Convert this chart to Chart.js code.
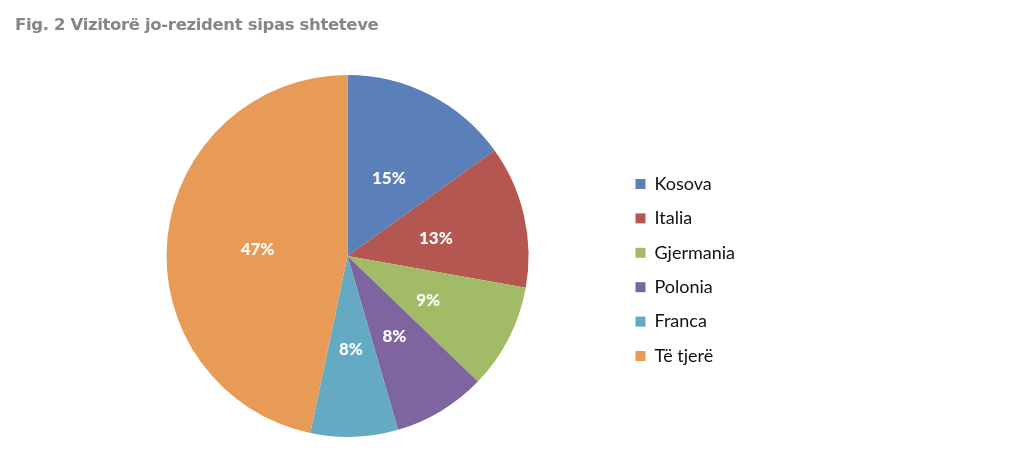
<!DOCTYPE html>
<html>
<head>
<meta charset="utf-8">
<script src="https://cdn.jsdelivr.net/npm/chart.js@4.4.1/dist/chart.umd.min.js"></script>
<style>
  html, body { margin: 0; padding: 0; background: #ffffff; }
  #wrap { position: relative; width: 1024px; height: 466px; overflow: hidden; }
  #title {
    position: absolute; left: 15px; top: 15px; margin: 0;
    font-family: "DejaVu Sans", sans-serif; font-weight: bold;
    font-size: 16.5px; letter-spacing: -0.35px; color: #868686; white-space: nowrap;
  }
  canvas { position: absolute; left: 0; top: 0; }
</style>
</head>
<body>
<div id="wrap">
  <canvas id="c" width="1024" height="466"></canvas>
  <h1 id="title"></h1>
</div>
<script>
const TITLE = "Fig. 2 Vizitorë jo-rezident sipas shteteve";
const categories = ["Kosova", "Italia", "Gjermania", "Polonia", "Franca", "Të tjerë"];
const shares = [15.1, 12.7, 9.4, 8.3, 7.8, 46.7];
const sliceColors = ["#5B7FB9", "#B35750", "#A1BB67", "#7F659F", "#65AAC3", "#E89B56"];

document.getElementById('title').textContent = TITLE;

const pctLabels = {
  id: 'pctLabels',
  afterDatasetsDraw(chart) {
    const ctx = chart.ctx;
    const meta = chart.getDatasetMeta(0);
    const data = chart.data.datasets[0].data;
    const total = data.reduce((a, b) => a + b, 0);
    ctx.save();
    ctx.fillStyle = '#ffffff';
    ctx.font = '900 17px Lato, "Open Sans", sans-serif';
    ctx.textAlign = 'center';
    ctx.textBaseline = 'middle';
    meta.data.forEach((arc, i) => {
      const p = arc.getProps(['x', 'y', 'startAngle', 'endAngle', 'outerRadius'], true);
      const mid = (p.startAngle + p.endAngle) / 2;
      const r = p.outerRadius * 0.5;
      const txt = Math.round(data[i] / total * 100) + '%';
      ctx.fillText(txt, p.x + Math.cos(mid) * r, p.y + Math.sin(mid) * r + 3);
    });
    ctx.restore();
  }
};

new Chart(document.getElementById('c'), {
  type: 'pie',
  data: {
    labels: categories,
    datasets: [{
      data: shares,
      backgroundColor: sliceColors,
      borderWidth: 0
    }]
  },
  options: {
    responsive: false,
    animation: false,
    layout: { padding: { top: 75, bottom: 29, left: 76, right: 279 } },
    plugins: {
      title: { display: false },
      tooltip: { enabled: false },
      legend: {
        position: 'right',
        title: { display: true, text: '', padding: { top: 0, bottom: 16 }, font: { size: 10 } },
        labels: {
          boxWidth: 10,
          boxHeight: 10,
          padding: 16.4,
          color: '#111111',
          font: { family: 'Lato, "Open Sans", sans-serif', size: 18 }
        }
      }
    }
  },
  plugins: [pctLabels]
});
</script>
</body>
</html>
